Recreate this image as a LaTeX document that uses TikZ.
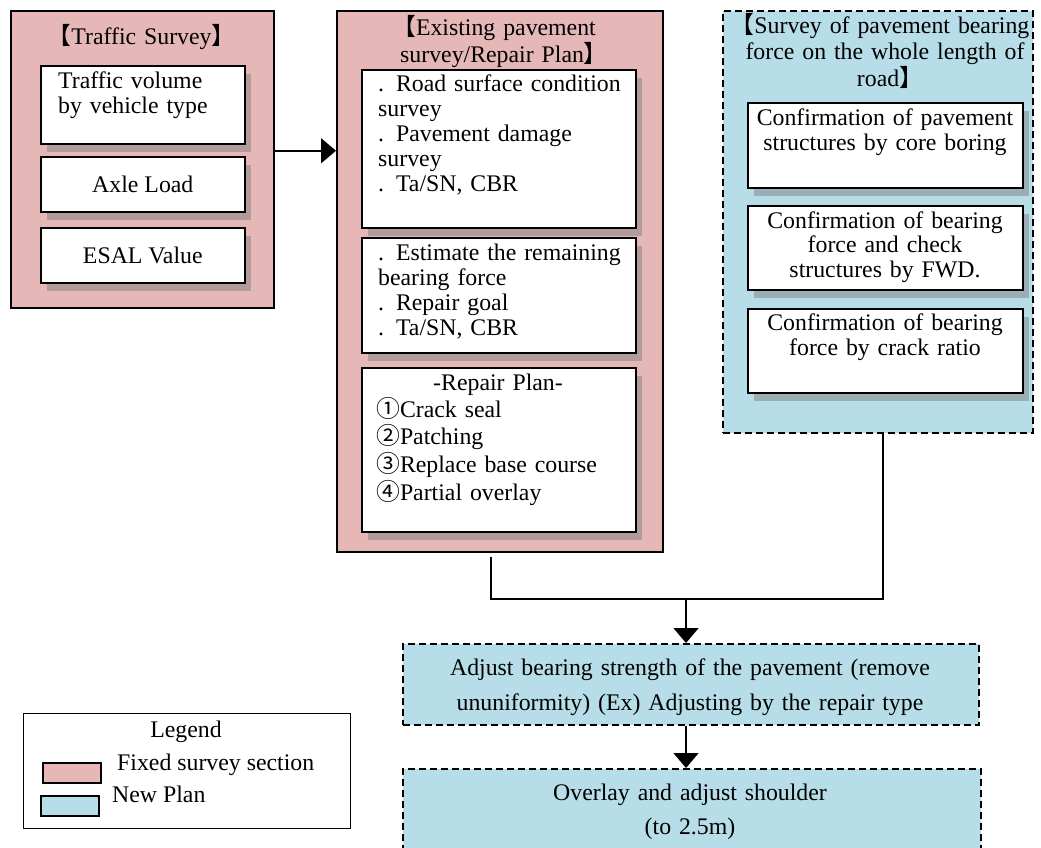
\documentclass[tikz,border=0pt]{standalone}
\usepackage{fontspec}
\setmainfont{Liberation Serif}
\newfontfamily\cjkfont{Noto Sans CJK JP}
\usetikzlibrary{arrows.meta,shadows}

\definecolor{fixedpink}{HTML}{E5B8B7}
\definecolor{newblue}{HTML}{B7DDE8}

% full-width brackets (blank half trimmed) and circled numbers
\newcommand{\lbr}{{\cjkfont\kern-0.42em 【}}
\newcommand{\rbr}{{\cjkfont 】\kern-0.42em}}
\newcommand{\cjk}[1]{{\cjkfont #1}}
\newcommand{\lead}[1]{\fontsize{23.8}{#1}\selectfont}

\tikzset{
  every node/.style={font=\lead{25}},
  panel/.style={draw, line width=1.5pt, fill=fixedpink, inner sep=0pt, anchor=north west},
  npanel/.style={draw, line width=1.5pt, fill=newblue, dash pattern=on 7pt off 4pt, inner sep=0pt, anchor=north west},
  ibox/.style={draw, line width=1.6pt, fill=white, inner sep=0pt, anchor=north west,
    drop shadow={shadow xshift=6pt, shadow yshift=-8pt}},
  nbox/.style={draw, line width=1.5pt, fill=newblue, dash pattern=on 7pt off 4pt, inner sep=0pt, anchor=north west},
  lbox/.style={draw, line width=1.3pt, fill=white, inner sep=0pt, anchor=north west},
  swatch/.style={draw, line width=1.5pt, inner sep=0pt, anchor=north west, minimum width=58pt, minimum height=20pt},
  ltxt/.style={inner sep=0pt, anchor=base west, align=left},
  ctxt/.style={inner sep=0pt, anchor=base, align=center},
  link/.style={line width=1.5pt},
  arr/.style={line width=1.5pt, -{Triangle[length=15pt, width=25pt]}}
}

\begin{document}
\begin{tikzpicture}[x=1pt, y=-1pt]
\useasboundingbox (0,0) rectangle (1041,847);
\clip (0,0) rectangle (1041,847);

% ---------------- Traffic survey ----------------
\node[panel, minimum width=263pt, minimum height=297pt] (ts) at (10,10) {};
\node[ctxt, text width=250pt] (ts-t) at (141.5,44) {\lbr Traffic Survey\rbr};
\node[ibox, minimum width=204pt, minimum height=78pt] (tv) at (40,65) {};
\node[ltxt, text width=185pt] (tv-t) at (58,88) {Traffic volume\\by vehicle type};
\node[ibox, minimum width=204pt, minimum height=55pt] (al) at (40,156) {Axle Load};
\node[ibox, minimum width=204pt, minimum height=55pt] (es) at (40,227) {ESAL Value};

% ---------------- Existing pavement survey ----------------
\node[panel, minimum width=326pt, minimum height=541pt] (ep) at (336,10) {};
\node[ctxt, text width=310pt, font=\lead{27}] (ep-t) at (499,35)
  {\lbr Existing pavement\\survey/Repair Plan\rbr};
\node[ibox, minimum width=274pt, minimum height=158pt] (ea) at (361,69) {};
\node[ltxt, text width=255pt] (ea-t) at (378,91)
  {. Road surface condition\\survey\\. Pavement damage\\survey\\. Ta/SN, CBR};
\node[ibox, minimum width=274pt, minimum height=115pt] (eb) at (361,237) {};
\node[ltxt, text width=255pt] (eb-t) at (378,260)
  {. Estimate the remaining\\bearing force\\. Repair goal\\. Ta/SN, CBR};
\node[ibox, minimum width=274pt, minimum height=164pt] (ec) at (361,367) {};
\node[ctxt, text width=255pt] (ec-t) at (498,390) {-Repair Plan-};
\node[ltxt, text width=255pt, font=\lead{27.8}] (ec-l) at (376,417)
  {\cjk{①}Crack seal\\\cjk{②}Patching\\\cjk{③}Replace base course\\\cjk{④}Partial overlay};

% ---------------- Whole-length bearing force survey ----------------
\node[npanel, minimum width=310pt, minimum height=422pt] (sv) at (722,10) {};
\node[ctxt, text width=300pt, font=\lead{26.5}] (sv-t) at (885,33)
  {\lbr Survey of pavement bearing\\force on the whole length of\\road\rbr};
\node[ibox, minimum width=275pt, minimum height=85pt] (ra) at (747,102) {};
\node[ctxt, text width=270pt] (ra-t) at (885,125)
  {Confirmation of pavement\\structures by core boring};
\node[ibox, minimum width=275pt, minimum height=84pt] (rb) at (747,205) {};
\node[ctxt, text width=270pt, font=\lead{24.5}] (rb-t) at (885,228)
  {Confirmation of bearing\\force and check\\structures by FWD.};
\node[ibox, minimum width=275pt, minimum height=84pt] (rc) at (747,308) {};
\node[ctxt, text width=270pt] (rc-t) at (885,330)
  {Confirmation of bearing\\force by crack ratio};

% ---------------- Plan steps ----------------
\node[nbox, minimum width=576pt, minimum height=81pt] (ad) at (402,643) {};
\node[ctxt, text width=570pt, font=\lead{35}] (ad-t) at (690,675)
  {Adjust bearing strength of the pavement (remove\\ununiformity) (Ex) Adjusting by the repair type};
\node[nbox, minimum width=578pt, minimum height=110pt] (ov) at (402,768) {};
\node[ctxt, text width=570pt, font=\lead{34}] (ov-t) at (690,800)
  {Overlay and adjust shoulder\\(to 2.5m)};

% ---------------- Legend ----------------
\node[lbox, minimum width=327pt, minimum height=115pt] (lg) at (23,713) {};
\node[ctxt] (lg-t) at (186,737) {Legend};
\node[swatch, fill=fixedpink] (sw1) at (42,762) {};
\node[ltxt] (sw1-t) at (117,770) {Fixed survey section};
\node[swatch, fill=newblue] (sw2) at (40,795) {};
\node[ltxt] (sw2-t) at (112,802) {New Plan};

% ---------------- Connectors ----------------
\coordinate (jl) at (491,599);
\coordinate (j)  at (686,599);
\coordinate (jr) at (883,599);

\draw[arr] ([yshift=8.5pt]ts.east) -- ([yshift=8.5pt]ts.east -| ep.west);
\draw[link] ([yshift=-4pt]ep.south -| jl) -- (jl) -- (jr) -- (sv.south -| jr);
\draw[arr] (j) -- (ad.north -| j);
\draw[arr] (ad.south -| j) -- (ov.north -| j);
\end{tikzpicture}
\end{document}
